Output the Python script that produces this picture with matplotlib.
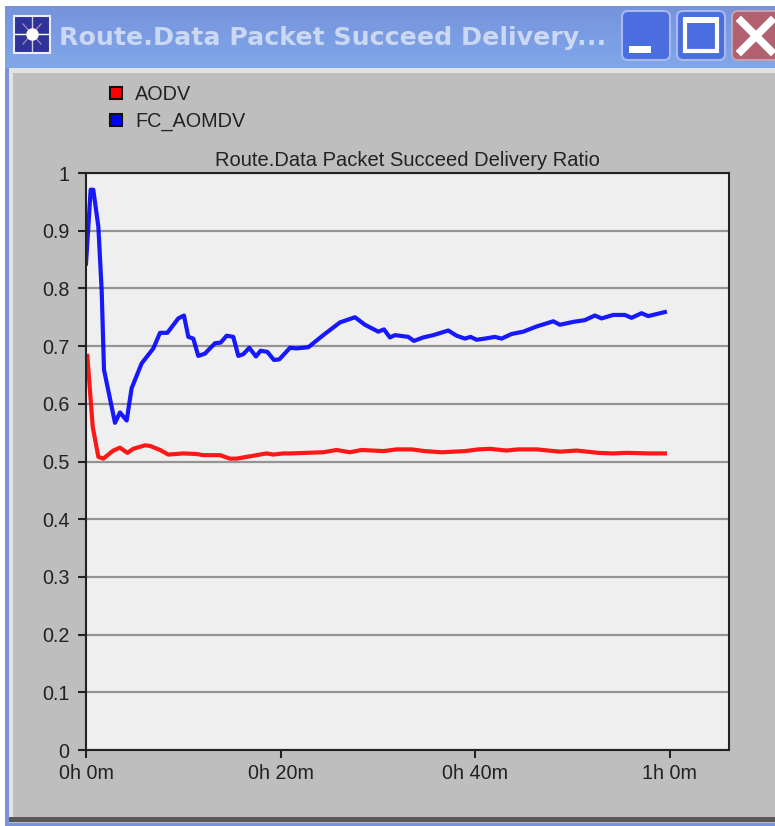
import matplotlib
matplotlib.use('Agg')
import matplotlib.pyplot as plt
from matplotlib.patches import Rectangle, FancyBboxPatch
from matplotlib.lines import Line2D
import numpy as np

W, H = 775, 826

# values, time in minutes
blue_t = [0.0, 0.48, 0.75, 1.27, 1.61, 1.85, 2.98, 3.49, 4.18, 4.69, 5.72, 6.92, 7.61, 8.36,
          9.49, 10.07, 10.52, 11.03, 11.54, 12.23, 13.26, 13.84, 14.46, 15.14, 15.66, 16.17,
          16.79, 17.47, 17.95, 18.64, 19.32, 19.87, 20.97, 21.65, 22.85, 24.39, 26.1, 27.65,
          28.67, 30.05, 30.63, 31.24, 31.76, 33.13, 33.71, 34.67, 35.7, 37.24, 38.1, 38.95,
          39.53, 40.15, 41.0, 42.03, 42.72, 43.75, 44.95, 46.32, 48.03, 48.72, 50.09, 51.28,
          52.31, 53.0, 54.2, 55.4, 56.08, 57.11, 57.79, 59.51]
blue_v = [0.843, 0.971, 0.971, 0.907, 0.797, 0.659, 0.567, 0.585, 0.571, 0.627, 0.67, 0.696,
          0.723, 0.723, 0.748, 0.753, 0.716, 0.713, 0.683, 0.687, 0.705, 0.706, 0.718, 0.716,
          0.683, 0.686, 0.697, 0.682, 0.692, 0.69, 0.676, 0.677, 0.697, 0.696, 0.698, 0.719,
          0.741, 0.75, 0.737, 0.725, 0.729, 0.715, 0.719, 0.716, 0.709, 0.715, 0.719, 0.727,
          0.718, 0.713, 0.716, 0.711, 0.713, 0.716, 0.713, 0.721, 0.725, 0.734, 0.743, 0.737,
          0.742, 0.745, 0.753, 0.748, 0.754, 0.754, 0.749, 0.757, 0.752, 0.759]

red_t = [0.14, 0.69, 1.27, 1.78, 2.81, 3.49, 4.25, 4.86, 6.06, 6.58, 7.61, 8.46, 10.0, 11.37,
         12.06, 13.77, 14.8, 15.49, 17.2, 18.57, 19.25, 20.28, 20.97, 24.39, 25.76, 27.13,
         28.33, 30.56, 31.93, 33.47, 34.84, 36.55, 38.95, 40.32, 41.52, 43.23, 44.43, 46.32,
         48.72, 50.43, 52.65, 54.2, 55.57, 57.97, 59.51]
red_v = [0.683, 0.56, 0.508, 0.505, 0.519, 0.524, 0.515, 0.522, 0.528, 0.527, 0.52, 0.512,
         0.514, 0.513, 0.511, 0.511, 0.505, 0.505, 0.51, 0.514, 0.512, 0.514, 0.514, 0.516,
         0.52, 0.516, 0.52, 0.518, 0.521, 0.521, 0.518, 0.516, 0.518, 0.521, 0.522, 0.519,
         0.521, 0.521, 0.517, 0.519, 0.515, 0.514, 0.515, 0.514, 0.514]

y_ticks = [0, 0.1, 0.2, 0.3, 0.4, 0.5, 0.6, 0.7, 0.8, 0.9, 1]
y_labels = ['0', '0.1', '0.2', '0.3', '0.4', '0.5', '0.6', '0.7', '0.8', '0.9', '1']
x_ticks = [0, 20, 40, 60]
x_labels = ['0h 0m', '0h 20m', '0h 40m', '1h 0m']

plt.rcParams['font.family'] = ['Liberation Sans', 'DejaVu Sans']

fig = plt.figure(figsize=(W / 100, H / 100), dpi=100, facecolor='white')

# window frame, drawn in pixel coordinates
bg = fig.add_axes([0, 0, 1, 1])

bar = np.linspace(0, 1, 64).reshape(-1, 1)
bar_colors = np.zeros((64, 1, 3))
bar_colors[:, :, 0] = (118 + 10 * bar) / 255
bar_colors[:, :, 1] = (147 + 20 * bar) / 255
bar_colors[:, :, 2] = (220 + 14 * bar) / 255
bg.imshow(bar_colors, extent=[5, W, 68, 6], aspect='auto', zorder=1)
bg.set_xlim(0, W)
bg.set_ylim(H, 0)
bg.axis('off')
bg.add_patch(Rectangle((5, 68), W - 5, H - 68, color='#7b93dc', lw=0, zorder=1))
bg.add_patch(Rectangle((9, 68), W - 9, 755, color='#bebebe', lw=0, zorder=2))
bg.add_patch(Rectangle((9, 68), W - 9, 5, color='#e2e2e2', lw=0, zorder=3))
bg.add_patch(Rectangle((9, 68), 4, 750, color='#e2e2e2', lw=0, zorder=3))
bg.add_patch(Rectangle((9, 817), W - 9, 5, color='#575757', lw=0, zorder=3))

# icon
bg.add_patch(Rectangle((14, 16), 36, 37, facecolor='#2f3296', edgecolor='#eeeef6', lw=1.5, zorder=4))
for dx, dy, c, lw in [(17, 0, 'white', 1), (0, 17, '#c8c8e0', 1), (9, 10, '#9a80b8', 1), (9, -10, '#9a80b8', 1)]:
    bg.plot([32 - dx, 32 + dx], [34 - dy, 34 + dy], color=c, lw=lw, zorder=5)
bg.plot([32], [34], 'o', color='white', ms=8, zorder=6)

bg.text(59, 38, 'Route.Data Packet Succeed Delivery...', fontsize=18.2, fontweight='bold',
        family='DejaVu Sans', color='#cbd8f3', va='center', ha='left', zorder=5)

# window buttons
bg.add_patch(FancyBboxPatch((622, 11), 48, 49, boxstyle='round,pad=0,rounding_size=6',
                            facecolor='#4a6ee0', edgecolor='#a8baec', lw=1.5, zorder=4))
bg.add_patch(Rectangle((629, 46), 22, 7, color='white', lw=0, zorder=5))
bg.add_patch(FancyBboxPatch((677, 11), 48, 49, boxstyle='round,pad=0,rounding_size=6',
                            facecolor='#4a6ee0', edgecolor='#a8baec', lw=1.5, zorder=4))
bg.add_patch(Rectangle((685, 20), 32, 31, facecolor='none', edgecolor='white', lw=3, zorder=5))
bg.add_patch(Rectangle((683, 17), 36, 6, color='white', lw=0, zorder=5))
bg.add_patch(FancyBboxPatch((732, 11), 60, 49, boxstyle='round,pad=0,rounding_size=6',
                            facecolor='#b0606f', edgecolor='#c8a0b0', lw=1.5, zorder=4))
bg.plot([741, 771], [21, 51], color='white', lw=5.5, zorder=5)
bg.plot([771, 741], [21, 51], color='white', lw=5.5, zorder=5)

# chart
ax = fig.add_axes([86 / W, 1 - 750 / H, (729 - 86) / W, (750 - 173) / H], facecolor='#efefef')
ax.set_xlim(0, 66.1)
ax.set_ylim(0, 1)
ax.set_yticks(y_ticks)
ax.set_yticklabels(y_labels)
ax.set_xticks(x_ticks)
ax.set_xticklabels(x_labels)
ax.tick_params(axis='both', labelsize=14.2, length=6, width=1.5, color='#222222', labelcolor='#222222')
ax.tick_params(axis='x', pad=4)
ax.tick_params(axis='y', pad=6)
ax.grid(True, axis='y', color='#949494', lw=1.6)
ax.set_axisbelow(True)
for s in ax.spines.values():
    s.set_linewidth(1.5)
    s.set_color('#222222')

ax.plot(red_t, red_v, color='#ff0000', lw=3, alpha=0.9, label='AODV', solid_joinstyle='round')
ax.plot(blue_t, blue_v, color='#0000ff', lw=3, alpha=0.9, label='FC_AOMDV', solid_joinstyle='round')
ax.set_title('Route.Data Packet Succeed Delivery Ratio', fontsize=14.5, color='#222222', pad=5)

handles = [Line2D([], [], ls='none', marker='s', ms=8, mfc=c, mec='#111111', mew=1.5) for c in ['#ff0000', '#0000ff']]
fig.legend(handles, ['AODV', 'FC_AOMDV'], loc='upper left', bbox_to_anchor=(107 / W, 1 - 85 / H),
           frameon=False, fontsize=14.3, labelcolor='#222222', handletextpad=0.51, labelspacing=0.4,
           borderpad=0, borderaxespad=0, handlelength=0.9)

fig.savefig('out.png', dpi=100)
